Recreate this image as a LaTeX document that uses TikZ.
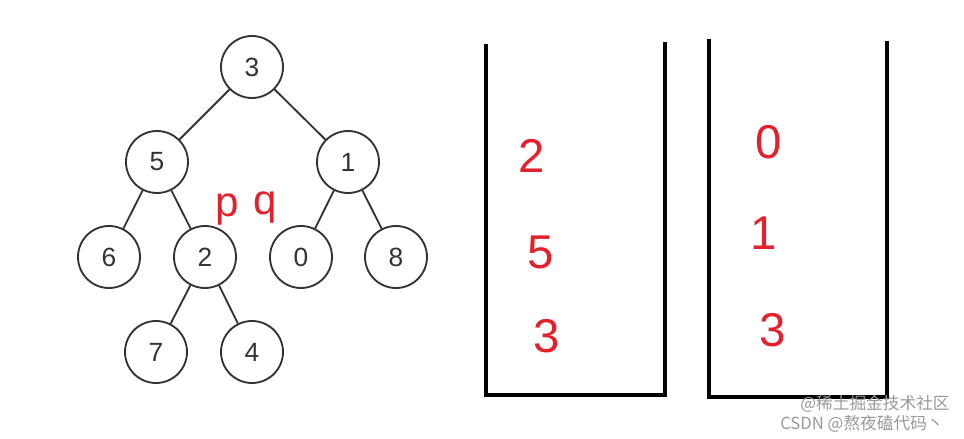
\documentclass[tikz,border=0pt]{standalone}
\usepackage{fontspec}
\setmainfont{Liberation Sans}
\newfontfamily\cjkfont{Noto Sans CJK SC}
\usepackage{tikz}
\usetikzlibrary{positioning}

\definecolor{inkred}{HTML}{E3202B}
\definecolor{treegray}{HTML}{333333}

\tikzset{
  vertex/.style={circle, draw=treegray, line width=1.05pt, minimum size=1.24cm,
    inner sep=0pt, font=\fontsize{15}{17}\selectfont, text=treegray},
  branch/.style={draw=treegray, line width=1.05pt},
  mark red/.style={text=inkred, inner sep=0pt, font=\fontsize{27}{30}\selectfont},
  stackwall/.style={draw=black, line width=2.8pt, line join=miter},
  watermark/.style={anchor=east, text=black!40, inner sep=0pt,
    font=\cjkfont\fontsize{9.5}{11}\selectfont},
}

\begin{document}
\begin{tikzpicture}[x=0.02cm, y=-0.02cm]
      \useasboundingbox (0,0) rectangle (964,439);
      % Define nodes
      \node[vertex] (n3) at (252,67)  {3};
      \node[vertex] (n5) at (157,162) {5};
      \node[vertex] (n1) at (348,162) {1};
      \node[vertex] (n6) at (109,257) {6};
      \node[vertex] (n2) at (205,257) {2};
      \node[vertex] (n0) at (301,257) {0};
      \node[vertex] (n8) at (396,257) {8};
      \node[vertex] (n7) at (156,352) {7};
      \node[vertex] (n4) at (252,352) {4};
      % Connect nodes
      \draw[branch] (n3) -- (n5);
      \draw[branch] (n3) -- (n1);
      \draw[branch] (n5) -- (n6);
      \draw[branch] (n5) -- (n2);
      \draw[branch] (n1) -- (n0);
      \draw[branch] (n1) -- (n8);
      \draw[branch] (n2) -- (n7);
      \draw[branch] (n2) -- (n4);
      % pointers
      \node[mark red, font=\fontsize{24}{26}\selectfont] (p) at (227,210) {p};
      \node[mark red, font=\fontsize{24}{26}\selectfont] (q) at (265,208) {q};
      % stacks
      \coordinate (s1a) at (486,44);
      \coordinate (s1b) at (486,395);
      \coordinate (s1c) at (665,395);
      \coordinate (s1d) at (665,42);
      \draw[stackwall] (s1a) -- (s1b) -- (s1c) -- (s1d);
      \coordinate (s2a) at (709,39);
      \coordinate (s2b) at (709,397);
      \coordinate (s2c) at (887,397);
      \coordinate (s2d) at (887,41);
      \draw[stackwall] (s2a) -- (s2b) -- (s2c) -- (s2d);
      \node[mark red] (a2) at (532,156) {2};
      \node[mark red] (a5) at (541,252) {5};
      \node[mark red] (a3) at (547,336) {3};
      \node[mark red] (b0) at (769,142) {0};
      \node[mark red] (b1) at (764,233) {1};
      \node[mark red] (b3) at (773,330) {3};
      % watermark
      \node[watermark] (wm1) at (950,404) {@稀土掘金技术社区};
      \node[watermark] (wm2) at (944,424) {CSDN @熬夜磕代码丶};
    \end{tikzpicture}
\end{document}
